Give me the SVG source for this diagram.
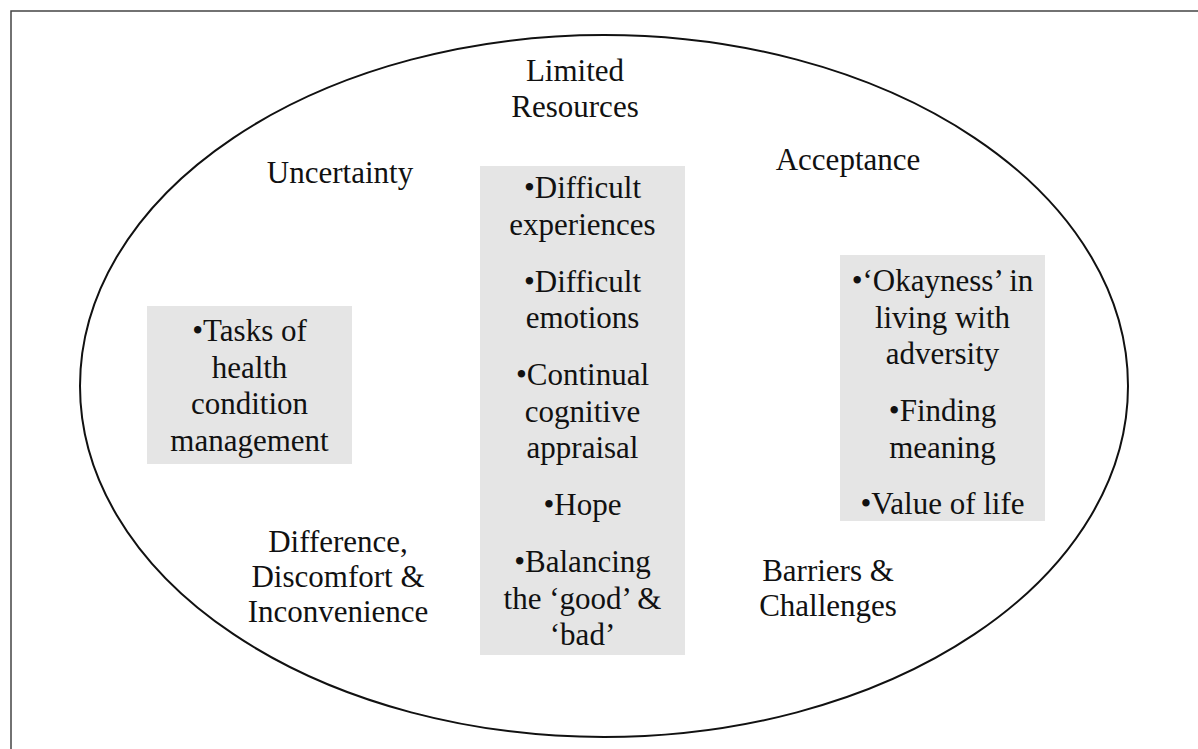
<svg xmlns="http://www.w3.org/2000/svg" width="1198" height="749" viewBox="0 0 1198 749">
<style>
.t{font-family:"Liberation Serif","Times New Roman",serif;font-size:31px;fill:#111;text-anchor:middle}
.box{fill:#e5e5e5}
</style>
<rect x="0" y="0" width="1198" height="749" fill="#fff"/>
<path d="M11,749 V11 H1198" fill="none" stroke="#444" stroke-width="1.5"/>
<g id="outer">
<ellipse cx="604" cy="386" rx="524" ry="351" fill="none" stroke="#111" stroke-width="2"/>
</g>
<g id="connectors"></g>
<g id="limited-resources">
<text class="t" x="575" y="81">Limited</text>
<text class="t" x="575" y="117">Resources</text>
</g>
<g id="uncertainty"><text class="t" x="340" y="183">Uncertainty</text></g>
<g id="acceptance"><text class="t" x="848" y="170">Acceptance</text></g>
<g id="difference">
<text class="t" x="338" y="552">Difference,</text>
<text class="t" x="338" y="587">Discomfort &amp;</text>
<text class="t" x="338" y="622">Inconvenience</text>
</g>
<g id="barriers">
<text class="t" x="828" y="581">Barriers &amp;</text>
<text class="t" x="828" y="616">Challenges</text>
</g>
<g id="tasks-box">
<rect class="box" x="147" y="306" width="205" height="158"/>
<text class="t" x="249.5" y="341">•Tasks of</text>
<text class="t" x="249.5" y="377.5">health</text>
<text class="t" x="249.5" y="414">condition</text>
<text class="t" x="249.5" y="450.5">management</text>
</g>
<g id="center-box">
<rect class="box" x="480" y="166" width="205" height="489"/>
<text class="t" x="582.5" y="198">•Difficult</text>
<text class="t" x="582.5" y="234.5">experiences</text>
<text class="t" x="582.5" y="291.5">•Difficult</text>
<text class="t" x="582.5" y="328">emotions</text>
<text class="t" x="582.5" y="385">•Continual</text>
<text class="t" x="582.5" y="421.5">cognitive</text>
<text class="t" x="582.5" y="458">appraisal</text>
<text class="t" x="582.5" y="515">•Hope</text>
<text class="t" x="582.5" y="572">•Balancing</text>
<text class="t" x="582.5" y="608.5">the ‘good’ &amp;</text>
<text class="t" x="582.5" y="645">‘bad’</text>
</g>
<g id="right-box">
<rect class="box" x="840" y="255" width="205" height="266"/>
<text class="t" x="942.5" y="291">•‘Okayness’ in</text>
<text class="t" x="942.5" y="327.5">living with</text>
<text class="t" x="942.5" y="364">adversity</text>
<text class="t" x="942.5" y="421">•Finding</text>
<text class="t" x="942.5" y="457.5">meaning</text>
<text class="t" x="942.5" y="514">•Value of life</text>
</g>
</svg>
